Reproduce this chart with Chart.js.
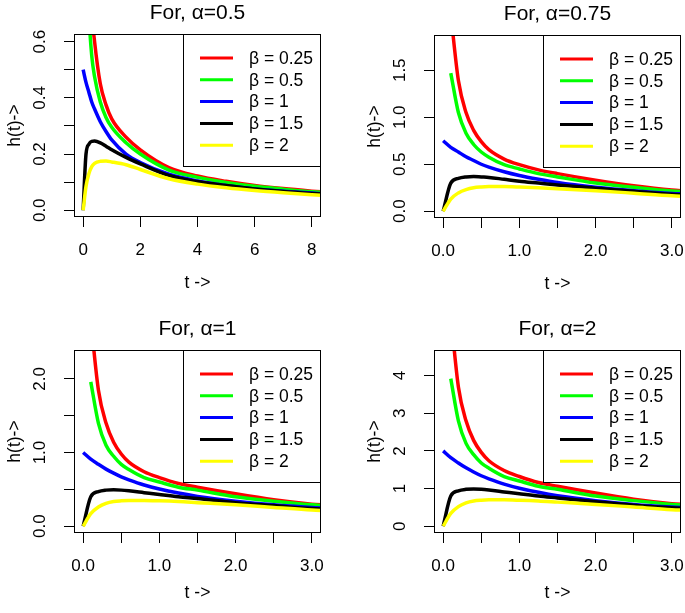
<!DOCTYPE html>
<html>
<head>
<meta charset="utf-8">
<title>Hazard curves</title>
<script src="https://cdn.jsdelivr.net/npm/chart.js@4.4.0/dist/chart.umd.min.js"></script>
<style>
  body { margin: 0; width: 685px; height: 613px; overflow: hidden; background: #fff; position: relative; }
  canvas { position: absolute; }
</style>
</head>
<body>
<canvas id="p1" width="342" height="316" style="left:0px;top:0px"></canvas>
<canvas id="p2" width="342" height="316" style="left:360px;top:1px"></canvas>
<canvas id="p3" width="342" height="316" style="left:0px;top:316px"></canvas>
<canvas id="p4" width="342" height="316" style="left:360px;top:316px"></canvas>
<script>
// legend / series
const betaLabels = ['β = 0.25', 'β = 0.5', 'β = 1', 'β = 1.5', 'β = 2'];
const lineColors = ['#ff0000', '#00ff00', '#0000ff', '#000000', '#ffff00'];

// time points
const tLong = [0, 0.1, 0.2, 0.3, 0.4, 0.6, 0.8, 1, 1.5, 2, 3, 4, 5, 6, 7, 8, 8.5];
const tShort = [0, 0.1, 0.2, 0.3, 0.4, 0.5, 0.6, 0.8, 1, 1.25, 1.5, 2, 2.5, 3, 3.2];

// alpha = 0.5
const a05_b025 = [null, 1.40, 0.93, 0.71, 0.60, 0.45, 0.375, 0.325, 0.26, 0.215, 0.152, 0.122, 0.103, 0.088, 0.077, 0.068, 0.064];
const a05_b05 = [null, 0.98, 0.70, 0.55, 0.475, 0.385, 0.33, 0.295, 0.24, 0.20, 0.143, 0.117, 0.099, 0.085, 0.075, 0.066, 0.063];
const a05_b1 = [0.50, 0.455, 0.42, 0.385, 0.36, 0.315, 0.28, 0.25, 0.20, 0.17, 0.128, 0.104, 0.088, 0.076, 0.068, 0.061, 0.058];
const a05_b15 = [0, 0.20, 0.235, 0.245, 0.246, 0.24, 0.228, 0.215, 0.188, 0.165, 0.124, 0.102, 0.088, 0.076, 0.067, 0.06, 0.057];
const a05_b2 = [0, 0.085, 0.13, 0.155, 0.167, 0.174, 0.175, 0.172, 0.162, 0.145, 0.112, 0.093, 0.08, 0.07, 0.062, 0.055, 0.052];

// alpha = 0.75
const a075_b025 = [null, 2.1, 1.39, 1.05, 0.86, 0.74, 0.655, 0.555, 0.495, 0.44, 0.40, 0.33, 0.27, 0.225, 0.215];
const a075_b05 = [null, 1.47, 1.05, 0.83, 0.71, 0.63, 0.575, 0.495, 0.45, 0.40, 0.365, 0.30, 0.255, 0.215, 0.205];
const a075_b1 = [0.75, 0.68, 0.63, 0.58, 0.54, 0.50, 0.47, 0.42, 0.38, 0.34, 0.305, 0.255, 0.218, 0.19, 0.182];
const a075_b15 = [0, 0.30, 0.35, 0.365, 0.37, 0.365, 0.36, 0.34, 0.32, 0.30, 0.28, 0.245, 0.212, 0.18, 0.174];
const a075_b2 = [0, 0.13, 0.195, 0.23, 0.25, 0.258, 0.262, 0.262, 0.258, 0.25, 0.24, 0.218, 0.192, 0.165, 0.158];

// alpha = 1
const a1_b025 = [null, 2.80, 1.85, 1.40, 1.14, 0.98, 0.87, 0.74, 0.66, 0.58, 0.53, 0.44, 0.36, 0.30, 0.285];
const a1_b05 = [null, 1.96, 1.40, 1.10, 0.95, 0.84, 0.77, 0.66, 0.60, 0.53, 0.49, 0.40, 0.34, 0.29, 0.275];
const a1_b1 = [1.0, 0.91, 0.84, 0.775, 0.72, 0.67, 0.63, 0.56, 0.505, 0.45, 0.405, 0.34, 0.29, 0.255, 0.245];
const a1_b15 = [0, 0.40, 0.47, 0.49, 0.495, 0.49, 0.48, 0.455, 0.43, 0.40, 0.375, 0.32, 0.28, 0.24, 0.232];
const a1_b2 = [0, 0.17, 0.26, 0.31, 0.335, 0.345, 0.35, 0.35, 0.345, 0.335, 0.32, 0.29, 0.255, 0.22, 0.21];

// alpha = 2
const a2_b025 = [null, 5.6, 3.7, 2.8, 2.28, 1.96, 1.74, 1.48, 1.32, 1.16, 1.06, 0.88, 0.72, 0.60, 0.57];
const a2_b05 = [null, 3.92, 2.80, 2.20, 1.90, 1.68, 1.54, 1.32, 1.20, 1.06, 0.98, 0.80, 0.68, 0.58, 0.55];
const a2_b1 = [2.0, 1.82, 1.68, 1.55, 1.44, 1.34, 1.26, 1.12, 1.01, 0.90, 0.81, 0.68, 0.58, 0.51, 0.49];
const a2_b15 = [0, 0.80, 0.94, 0.98, 0.99, 0.98, 0.96, 0.91, 0.86, 0.80, 0.75, 0.65, 0.56, 0.49, 0.47];
const a2_b2 = [0, 0.34, 0.52, 0.62, 0.67, 0.69, 0.70, 0.70, 0.69, 0.67, 0.64, 0.58, 0.51, 0.44, 0.42];

// axis ticks
const xTicksLong = [0, 2, 4, 6, 8];
const xLabelsLong = ['0', '2', '4', '6', '8'];
const xTicksShort = [0, 0.5, 1, 1.5, 2, 2.5, 3];
const xLabelsShort = ['0.0', '', '1.0', '', '2.0', '', '3.0'];
const yTicks1 = [0, 0.1, 0.2, 0.3, 0.4, 0.5, 0.6];
const yLabels1 = ['0.0', '', '0.2', '', '0.4', '', '0.6'];
const yTicks2 = [0, 0.5, 1, 1.5];
const yLabels2 = ['0.0', '0.5', '1.0', '1.5'];
const yTicks3 = [0, 0.5, 1, 1.5, 2];
const yLabels3 = ['0.0', '', '1.0', '', '2.0'];
const yTicks4 = [0, 1, 2, 3, 4];
const yLabels4 = ['0', '1', '2', '3', '4'];

const FONT = '"Liberation Sans", Arial, Helvetica, sans-serif';

// full box round the plot region
const boxPlugin = {
  id: 'plotBox',
  afterDraw(chart) {
    const a = chart.chartArea;
    const ctx = chart.ctx;
    ctx.save();
    ctx.strokeStyle = '#000';
    ctx.lineWidth = 1;
    ctx.strokeRect(Math.round(a.left) + 0.5, Math.round(a.top) + 0.5,
      Math.round(a.right - a.left) - 1, Math.round(a.bottom - a.top) - 1);
    ctx.restore();
  }
};

// y tick labels, turned like R draws them
const yLabelPlugin = {
  id: 'yLabels',
  afterDraw(chart, args, opts) {
    const scale = chart.scales.y;
    const ctx = chart.ctx;
    ctx.save();
    ctx.font = '17px ' + FONT;
    ctx.fillStyle = '#000';
    ctx.textAlign = 'center';
    ctx.textBaseline = 'middle';
    opts.values.forEach((v, i) => {
      if (!opts.labels[i]) return;
      const py = scale.getPixelForValue(v);
      ctx.save();
      ctx.translate(opts.x, py);
      ctx.rotate(-Math.PI / 2);
      ctx.fillText(opts.labels[i], 0, 0);
      ctx.restore();
    });
    ctx.restore();
  }
};

// legend box in the top right corner of the plot
const legendPlugin = {
  id: 'cornerLegend',
  afterDraw(chart) {
    const a = chart.chartArea;
    const ctx = chart.ctx;
    const w = 138, h = 132;
    const left = Math.round(a.right - w);
    const top = Math.round(a.top);
    ctx.save();
    ctx.fillStyle = '#fff';
    ctx.fillRect(left, top, w, h);
    ctx.strokeStyle = '#000';
    ctx.lineWidth = 1;
    ctx.strokeRect(left + 0.5, top + 0.5, w - 1, h);
    ctx.font = '17.5px ' + FONT;
    ctx.textBaseline = 'middle';
    ctx.textAlign = 'left';
    chart.data.datasets.forEach((ds, i) => {
      const y = top + 24 + i * 21.8;
      ctx.strokeStyle = ds.borderColor;
      ctx.lineWidth = 3;
      ctx.beginPath();
      ctx.moveTo(left + 17, y);
      ctx.lineTo(left + 50, y);
      ctx.stroke();
      ctx.fillStyle = '#000';
      ctx.fillText(ds.label, left + 66, y + 1);
    });
    ctx.restore();
  }
};

function makePanel(id, p) {
  const datasets = p.series.map((vals, i) => ({
    label: betaLabels[i],
    data: p.t.map((t, j) => ({ x: t, y: vals[j] })),
    borderColor: lineColors[i],
    borderWidth: 3.5,
    pointRadius: 0,
    fill: false,
    cubicInterpolationMode: 'monotone',
    clip: 0,
    order: 4 - i
  }));

  return new Chart(document.getElementById(id), {
    type: 'line',
    data: { datasets: datasets },
    plugins: [boxPlugin, yLabelPlugin, legendPlugin],
    options: {
      responsive: false,
      animation: false,
      events: [],
      layout: { padding: { left: 0, right: 21, top: 0, bottom: 0 } },
      plugins: {
        legend: { display: false },
        tooltip: { enabled: false },
        title: {
          display: true,
          text: p.title,
          fullSize: false,
          color: '#000',
          font: { family: FONT, size: 21, weight: 'normal' },
          padding: { top: 0.8, bottom: 8 }
        },
        yLabels: { values: p.yTicks, labels: p.yLabels, x: 40.7 }
      },
      scales: {
        x: {
          type: 'linear',
          min: p.xMin,
          max: p.xMax,
          afterBuildTicks: (s) => { s.ticks = p.xTicks.map(v => ({ value: v })); },
          afterFit: (s) => { s.height = 99; },
          ticks: {
            autoSkip: false,
            maxRotation: 0,
            padding: 13.5,
            color: '#000',
            font: { family: FONT, size: 17 },
            callback: (v, i) => p.xLabels[i]
          },
          grid: { drawOnChartArea: false, drawTicks: true, tickLength: 10, color: '#000', lineWidth: 1 },
          border: { display: false },
          title: {
            display: true,
            text: 't ->',
            color: '#000',
            font: { family: FONT, size: 17.5 },
            padding: { top: 0, bottom: p.xTitlePad }
          }
        },
        y: {
          type: 'linear',
          min: p.yMin,
          max: p.yMax,
          afterBuildTicks: (s) => { s.ticks = p.yTicks.map(v => ({ value: v })); },
          afterFit: (s) => { s.width = 74; },
          ticks: { display: false },
          grid: { drawOnChartArea: false, drawTicks: true, tickLength: 10, color: '#000', lineWidth: 1 },
          border: { display: false },
          title: {
            display: true,
            text: 'h(t)->',
            color: '#000',
            font: { family: FONT, size: 17.5 },
            padding: { top: 4.5, bottom: 0 }
          }
        }
      }
    }
  });
}

makePanel('p1', {
  title: 'For, α=0.5', t: tLong,
  series: [a05_b025, a05_b05, a05_b1, a05_b15, a05_b2],
  xMin: -0.32, xMax: 8.32, xTicks: xTicksLong, xLabels: xLabelsLong,
  yMin: -0.024, yMax: 0.627, yTicks: yTicks1, yLabels: yLabels1, xTitlePad: 22.5
});
makePanel('p2', {
  title: 'For, α=0.75', t: tShort,
  series: [a075_b025, a075_b05, a075_b1, a075_b15, a075_b2],
  xMin: -0.12, xMax: 3.12, xTicks: xTicksShort, xLabels: xLabelsShort,
  yMin: -0.072, yMax: 1.875, yTicks: yTicks2, yLabels: yLabels2, xTitlePad: 22.5
});
makePanel('p3', {
  title: 'For, α=1', t: tShort,
  series: [a1_b025, a1_b05, a1_b1, a1_b15, a1_b2],
  xMin: -0.12, xMax: 3.12, xTicks: xTicksShort, xLabels: xLabelsShort,
  yMin: -0.092, yMax: 2.392, yTicks: yTicks3, yLabels: yLabels3, xTitlePad: 28.5
});
makePanel('p4', {
  title: 'For, α=2', t: tShort,
  series: [a2_b025, a2_b05, a2_b1, a2_b15, a2_b2],
  xMin: -0.12, xMax: 3.12, xTicks: xTicksShort, xLabels: xLabelsShort,
  yMin: -0.18, yMax: 4.68, yTicks: yTicks4, yLabels: yLabels4, xTitlePad: 28.5
});
</script>
</body>
</html>
